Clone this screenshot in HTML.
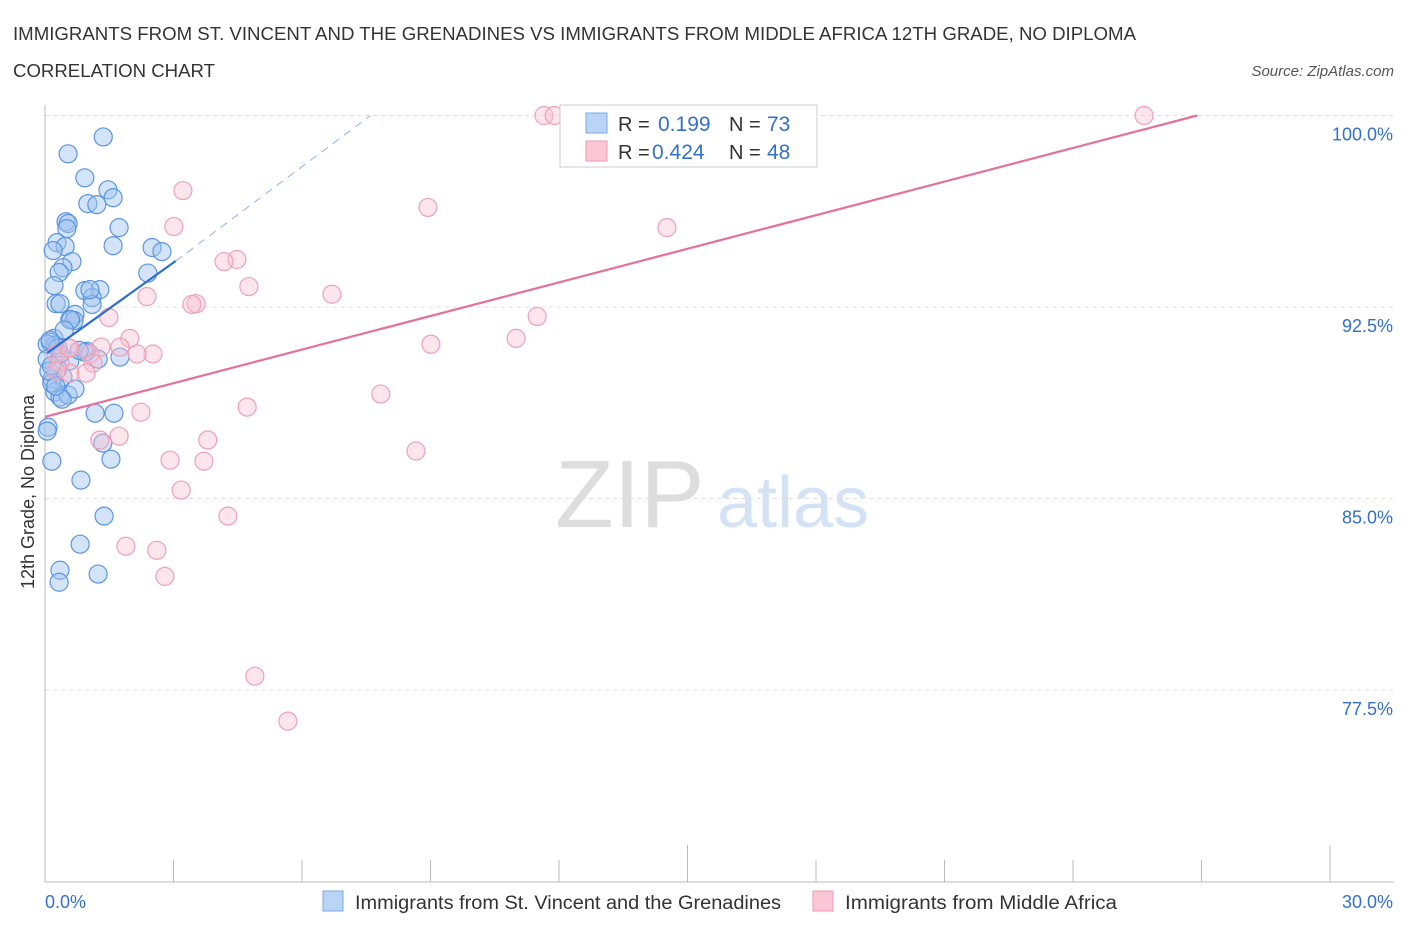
<!DOCTYPE html>
<html><head><meta charset="utf-8">
<style>
body{margin:0;background:#fff;font-family:"Liberation Sans",sans-serif;}
svg text{font-family:"Liberation Sans",sans-serif;}
</style></head>
<body>
<svg id="chart" width="1406" height="930" xmlns="http://www.w3.org/2000/svg">
<text x="13" y="40" font-size="18" fill="#333" textLength="1123" lengthAdjust="spacingAndGlyphs">IMMIGRANTS FROM ST. VINCENT AND THE GRENADINES VS IMMIGRANTS FROM MIDDLE AFRICA 12TH GRADE, NO DIPLOMA</text>
<text x="13" y="77" font-size="18" fill="#333" textLength="202" lengthAdjust="spacingAndGlyphs">CORRELATION CHART</text>
<text x="1394" y="76" font-size="15" fill="#555" text-anchor="end" font-style="italic">Source: ZipAtlas.com</text>
<text transform="translate(34,492) rotate(-90)" font-size="18" fill="#333" text-anchor="middle">12th Grade, No Diploma</text>
<text x="555" y="527" font-size="96" fill="#ddd" font-family="Liberation Serif">ZIP</text>
<text x="717" y="527" font-size="72" fill="#d3e2f5">atlas</text>
<g id="grid"></g><g id="pts"></g><g id="lines"></g>
<g>
<rect x="560" y="105" width="257" height="62" fill="#fff" stroke="#ccc"/>
<rect x="586" y="113" width="21" height="20" fill="#b9d4f5" stroke="#7aaae6"/>
<rect x="586" y="141" width="21" height="20" fill="#fbc6d6" stroke="#ec9ab3"/>
<text x="618" y="131" font-size="20" fill="#333">R = </text><text x="658" y="131" font-size="21" fill="#3370cc">0.199</text>
<text x="729" y="131" font-size="20" fill="#333">N = </text><text x="767" y="131" font-size="21" fill="#3370cc">73</text>
<text x="618" y="159" font-size="20" fill="#333">R = </text><text x="652" y="159" font-size="21" fill="#3370cc">0.424</text>
<text x="729" y="159" font-size="20" fill="#333">N = </text><text x="767" y="159" font-size="21" fill="#3370cc">48</text>
</g>
<g>
<rect x="323" y="891" width="20" height="20" fill="#b9d4f5" stroke="#7aaae6"/>
<text x="355" y="909" font-size="19" fill="#333" textLength="426" lengthAdjust="spacingAndGlyphs">Immigrants from St. Vincent and the Grenadines</text>
<rect x="813" y="891" width="20" height="20" fill="#fbc6d6" stroke="#ec9ab3"/>
<text x="845" y="909" font-size="19" fill="#333" textLength="272" lengthAdjust="spacingAndGlyphs">Immigrants from Middle Africa</text>
</g>
</svg>
<script>
const yTicks=[100,92.5,85,77.5];
const yTickLabels=["100.0%","92.5%","85.0%","77.5%"];
const xTickLabels=["0.0%","30.0%"];
const blueX=[1.36,0.54,0.93,1.47,1.59,1.0,1.21,0.49,0.54,0.51,1.73,0.28,0.47,1.59,0.19,2.5,2.73,0.63,0.42,0.33,2.4,0.21,1.28,0.93,1.1,0.26,0.35,1.1,0.7,0.58,0.68,0.21,0.12,0.23,0.98,1.75,1.24,0.58,0.3,0.16,0.42,0.23,0.35,0.54,1.17,1.61,0.07,0.05,1.35,0.16,1.54,0.84,1.38,0.82,0.35,1.24,0.33,0.93,0.35,0.05,0.16,1.05,0.7,0.4,0.05,0.09,0.3,0.12,0.6,0.8,0.25,0.45,0.15];
const blueY=[99.16,98.5,97.56,97.09,96.78,96.55,96.51,95.84,95.77,95.57,95.61,95.02,94.87,94.9,94.71,94.83,94.67,94.28,94.04,93.85,93.83,93.34,93.18,93.14,92.87,92.63,92.63,92.6,92.21,92.01,91.97,91.27,91.12,91.0,90.77,90.54,90.46,90.39,90.07,89.68,89.76,89.17,88.97,89.05,88.34,88.34,87.79,87.64,87.17,86.46,86.54,85.72,84.31,83.21,82.19,82.04,81.72,90.73,90.66,91.04,89.52,93.18,89.29,88.89,90.46,89.99,90.9,91.2,92.0,90.8,89.4,91.6,90.2];
const pinkX=[11.65,11.89,25.66,3.22,8.94,14.52,3.01,4.48,4.18,4.76,2.38,6.7,3.53,3.43,11.49,1.49,1.98,11.0,9.01,1.31,1.75,2.52,2.15,0.54,1.05,1.12,0.96,0.58,0.26,0.35,7.84,2.24,4.72,1.28,1.73,3.8,8.66,2.92,3.71,3.18,4.27,1.89,2.61,2.8,4.9,5.67,0.26,0.58];
const pinkY=[100,100,100,97.06,96.4,95.61,95.65,94.36,94.28,93.3,92.91,93.0,92.63,92.6,92.13,92.09,91.27,91.27,91.04,90.93,90.93,90.66,90.66,90.89,90.66,90.3,89.91,89.91,90.66,90.34,89.09,88.38,88.58,87.29,87.44,87.29,86.86,86.5,86.46,85.33,84.31,83.13,82.97,81.95,78.04,76.28,89.99,90.89];
const blueFit=[[0.05,90.7],[3.05,94.3],[7.6,100]];
const pinkFit=[[0,88.2],[26.9,100]];
const X=v=>45+v*(1285/30), Y=v=>115.5+(100-v)*(191.5/7.5);
const NS="http://www.w3.org/2000/svg";
function mk(tag,attrs,parent,text){const e=document.createElementNS(NS,tag);for(const k in attrs)e.setAttribute(k,attrs[k]);if(text!==undefined)e.textContent=text;parent.appendChild(e);return e;}
const grid=document.getElementById('grid');
yTicks.forEach((t,i)=>{
  const l=mk('line',{x1:45,x2:1394,y1:Y(t),y2:Y(t),stroke:'#ddd','stroke-dasharray':'4,4'},grid);
  
  
  const tx=mk('text',{x:1393,y:Y(t)+25,'font-size':18,fill:'#3370cc','text-anchor':'end'},grid,yTickLabels[i]);
  
  
});
const ax=mk('line',{x1:45,x2:45,y1:105,y2:882,stroke:'#bbb'},grid);


const bx=mk('line',{x1:45,x2:1394,y1:882,y2:882,stroke:'#bbb'},grid);


for(let i=0;i<=10;i++){
  const t=mk('line',{x1:X(i*3),x2:X(i*3),y1:i%5==0?845:860,y2:882,stroke:'#bbb'},grid);
  
  
}
[[0,'start',45],[30,'end',1393]].forEach((d,i)=>{
  const t=mk('text',{x:d[2],y:908,'font-size':18,fill:'#3370cc','text-anchor':d[1]},grid,xTickLabels[i]);
  
  
});
const pts=document.getElementById('pts');
blueX.forEach((v,i)=>{
  const c=mk('circle',{cx:X(v),cy:Y(blueY[i]),r:9,fill:'rgba(160,196,240,0.45)',stroke:'#5b95e0','stroke-width':1.2},pts);
  
  
});
pinkX.forEach((v,i)=>{
  const c=mk('circle',{cx:X(v),cy:Y(pinkY[i]),r:9,fill:'rgba(248,190,208,0.4)',stroke:'#eda0b8','stroke-width':1.2},pts);
  
  
});
const lines=document.getElementById('lines');
const b1=mk('line',{x1:X(blueFit[0][0]),y1:Y(blueFit[0][1]),x2:X(blueFit[1][0]),y2:Y(blueFit[1][1]),stroke:'#2a6ed4','stroke-width':2.2},lines);


const b2=mk('line',{x1:X(blueFit[1][0]),y1:Y(blueFit[1][1]),x2:X(blueFit[2][0]),y2:Y(blueFit[2][1]),stroke:'#8ab0e8','stroke-width':1,'stroke-dasharray':'8,6'},lines);


const p1=mk('line',{x1:X(pinkFit[0][0]),y1:Y(pinkFit[0][1]),x2:X(pinkFit[1][0]),y2:Y(pinkFit[1][1]),stroke:'#e5709a','stroke-width':2.2},lines);


</script>
</body></html>
